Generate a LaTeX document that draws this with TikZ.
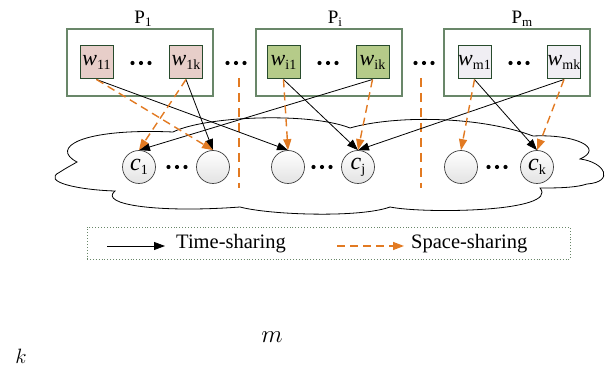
\documentclass[tikz,border=0pt]{standalone}
\usepackage{fontspec}
\setmainfont{Liberation Serif}
\usetikzlibrary{arrows.meta}
\definecolor{orng}{RGB}{226,122,34}
\definecolor{pinkw}{RGB}{231,206,201}
\definecolor{greenw}{RGB}{181,203,137}
\definecolor{grayw}{RGB}{240,238,243}
\definecolor{pbox}{RGB}{105,135,105}
\definecolor{wbord}{RGB}{40,75,45}
\newcommand{\wlab}[1]{{\fontsize{22}{22}\selectfont\textit{w}}\raisebox{-3.5pt}{\fontsize{14}{14}\selectfont #1}}
\newcommand{\clab}[1]{{\fontsize{24}{24}\selectfont\textit{c}}\raisebox{-4pt}{\fontsize{14}{14}\selectfont #1}}
\newcommand{\plab}[1]{{\fontsize{19}{19}\selectfont P}\raisebox{-3pt}{\fontsize{13}{13}\selectfont #1}}
\newcommand{\tdots}[2]{\fill (#1-8.5,#2) circle (2.1pt) (#1,#2) circle (2.1pt) (#1+8.5,#2) circle (2.1pt);}
\begin{document}
\begin{tikzpicture}[x=1pt,y=-1pt,
  pgrp/.style={draw=pbox, line width=1.4pt, minimum width=146pt, minimum height=67pt, inner sep=0pt},
  wk/.style={draw=wbord, line width=1pt, minimum size=33pt, inner sep=0pt},
  cn/.style={circle, draw=black!75, line width=0.7pt, minimum size=33pt, inner sep=0pt, top color=white, bottom color=gray!22},
  ts/.style={-{Triangle[length=11pt,width=8pt]}, line width=0.8pt},
  ss/.style={-{Triangle[length=11pt,width=8pt]}, orng, line width=1.4pt, dash pattern=on 8pt off 5pt},
  sep/.style={orng, line width=1.4pt, dash pattern=on 9pt off 6pt},
  ptxt/.style={anchor=base, inner sep=0pt},
]
\useasboundingbox (0,0) rectangle (616,371);

% cloud
\draw[line width=0.8pt, fill=white]
  (60,172) .. controls (66,168) and (72,165) .. (77,162)
  .. controls (50,148) and (80,128) .. (173,132)
  .. controls (205,116) and (310,112) .. (350,128)
  .. controls (395,115) and (480,116) .. (533,136)
  .. controls (575,134) and (605,148) .. (580,159)
  .. controls (605,162) and (615,182) .. (587,184)
  .. controls (575,188) and (555,188) .. (540,188)
  .. controls (560,212) and (425,214) .. (390,207)
  .. controls (360,218) and (270,215) .. (240,207)
  .. controls (160,213) and (98,205) .. (115,191)
  .. controls (80,190) and (40,182) .. cycle;

% groups
\node[pgrp] (P1) at (140,62.5) {};
\node[pgrp] (Pi) at (329,62.5) {};
\node[pgrp] (Pm) at (517,62.5) {};
\node[ptxt] (P1l) at (143,24) {\plab{1}};
\node[ptxt] (Pil) at (335,24) {\plab{i}};
\node[ptxt] (Pml) at (522,24) {\plab{m}};

% workers
\node[wk, fill=pinkw] (w11) at (96.5,62.5) {\wlab{11}};
\node[wk, fill=pinkw] (w1k) at (186,62.5) {\wlab{1k}};
\node[wk, fill=greenw] (wi1) at (283.5,62.5) {\wlab{i1}};
\node[wk, fill=greenw] (wik) at (372.5,62.5) {\wlab{ik}};
\node[wk, fill=grayw] (wm1) at (474.5,62.5) {\wlab{m1}};
\node[wk, fill=grayw] (wmk) at (564,62.5) {\wlab{mk}};

\tdots{141}{63}
\tdots{236}{63}
\tdots{328}{63}
\tdots{424}{63}
\tdots{519}{63}

% separators
\coordinate (s1t) at (239,78); \coordinate (s1b) at (239,188);
\coordinate (s2t) at (421,78); \coordinate (s2b) at (421,188);
\draw[sep] (s1t) -- (s1b);
\draw[sep] (s2t) -- (s2b);

% cores
\node[cn] (c1) at (139,167) {\clab{1}};
\node[cn] (c2) at (213,167) {};
\node[cn] (c3) at (288,167) {};
\node[cn] (cj) at (358,167) {\clab{j}};
\node[cn] (c5) at (461,167) {};
\node[cn] (ck) at (537,167) {\clab{k}};
\tdots{177}{167}
\tdots{322}{167}
\tdots{497}{167}

% time-sharing
\draw[ts] (w11.south) -- (c3.north);
\draw[ts] (w1k.south) -- (c2.north);
\draw[ts] (wi1.south) -- (cj.north);
\draw[ts] (wik.south) -- (c1.north);
\draw[ts] (wm1.south) -- (ck.north);
\draw[ts] (wmk.south) -- (cj.north);
% space-sharing
\draw[ss] (w11.south) -- (c2.north);
\draw[ss] (w1k.south) -- (c1.north);
\draw[ss] (wi1.south) -- (c3.north);
\draw[ss] (wik.south) -- (cj.north);
\draw[ss] (wm1.south) -- (c5.north);
\draw[ss] (wmk.south) -- (ck.north);

% legend
\node[draw=pbox, dotted, line width=0.9pt, minimum width=483pt, minimum height=32pt, inner sep=0pt] (leg) at (328.5,243) {};
\coordinate (a1s) at (107,246); \coordinate (a1e) at (165,246);
\coordinate (a2s) at (337,246); \coordinate (a2e) at (404,246);
\draw[ts] (a1s) -- (a1e);
\draw[ss] (a2s) -- (a2e);
\node[anchor=west, inner sep=0pt, font=\fontsize{20.5}{20.5}\selectfont] (lt) at (176,244) {Time-sharing};
\node[anchor=west, inner sep=0pt, font=\fontsize{20.5}{20.5}\selectfont] (ls) at (411,244) {Space-sharing};

% stray math
\node[font=\fontsize{23}{23}\selectfont] (mm) at (272,337) {$m$};
\node[font=\fontsize{22}{22}\selectfont, inner sep=0pt] (kk) at (21,356) {$k$};
\end{tikzpicture}
\end{document}
